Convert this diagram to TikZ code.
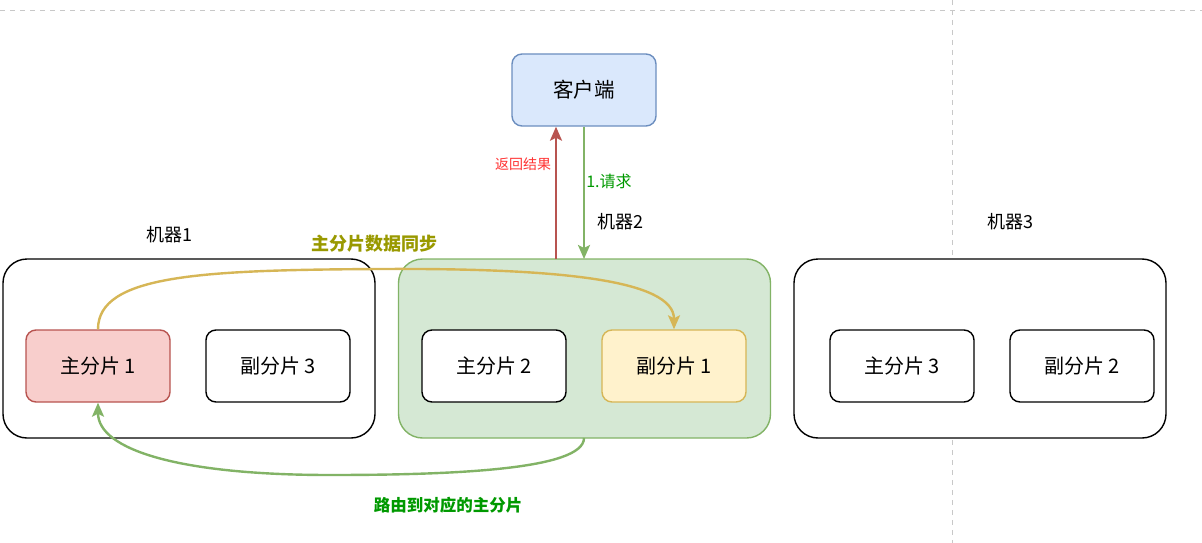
\documentclass[tikz,border=0pt]{standalone}
\usepackage{fontspec}
\setmainfont{Noto Sans CJK SC}
\usetikzlibrary{arrows.meta}
\definecolor{cliFill}{HTML}{DAE8FC}
\definecolor{cliDraw}{HTML}{6C8EBF}
\definecolor{grFill}{HTML}{D5E8D4}
\definecolor{grDraw}{HTML}{82B366}
\definecolor{rdFill}{HTML}{F8CECC}
\definecolor{rdDraw}{HTML}{B85450}
\definecolor{ylFill}{HTML}{FFF2CC}
\definecolor{ylDraw}{HTML}{D6B656}
\definecolor{olive}{HTML}{999900}
\definecolor{dgreen}{HTML}{009900}
\definecolor{lred}{HTML}{FF3333}
\definecolor{gridgray}{HTML}{C8C8C8}
\tikzset{
  machine/.style={draw=black, line width=1.4pt, rounded corners=24pt, minimum width=372pt, minimum height=179pt, fill=white},
  shard/.style={draw=black, line width=1.4pt, rounded corners=10pt, minimum width=144pt, minimum height=72pt, fill=white, font=\fontsize{20}{22}\selectfont},
  lbl/.style={font=\fontsize{18}{20}\selectfont},
  conn/.style={line width=2.4pt, -{Stealth[length=14pt,width=12pt,inset=3pt]}},
}
\begin{document}
\begin{tikzpicture}[x=1pt,y=-1pt]
\useasboundingbox (0,0) rectangle (1202,543);
% guide lines
\draw[gridgray, line width=0.8pt, dash pattern=on 5pt off 5pt] (0,10) -- (1202,10);
\draw[gridgray, line width=0.8pt, dash pattern=on 5pt off 5pt] (952,0) -- (952,543);
% client
\node[draw=cliDraw, fill=cliFill, line width=1.4pt, rounded corners=10pt, minimum width=144pt, minimum height=72pt, font=\fontsize{20.5}{22}\selectfont] (client) at (584,90) {客户端};
% machines
\node[machine] (m1) at (189,348.5) {};
\node[machine, fill=grFill, draw=grDraw] (m2) at (584.5,348.5) {};
\node[machine] (m3) at (980,348.5) {};
\node[lbl] (l1) at (169,235) {机器1};
\node[lbl] (l2) at (620,222) {机器2};
\node[lbl] (l3) at (1010,222) {机器3};
% shards
\node[shard, fill=rdFill, draw=rdDraw] (p1) at (98,366) {主分片 1};
\node[shard] (r3) at (278,366) {副分片 3};
\node[shard] (p2) at (494,366) {主分片 2};
\node[shard, fill=ylFill, draw=ylDraw] (r1) at (674,366) {副分片 1};
\node[shard] (p3) at (902,366) {主分片 3};
\node[shard] (r2) at (1082,366) {副分片 2};
% request / response
\coordinate (respStart) at (556,259);
\coordinate (reqEnd) at (584,259);
\draw[conn, rdDraw] (respStart) -- (respStart |- client.south);
\draw[conn, grDraw] (client.south) -- (reqEnd);
\node[font=\fontsize{14}{16}\selectfont, text=lred] (resp) at (523,164) {返回结果};
\node[font=\fontsize{16}{18}\selectfont, text=dgreen] (req) at (609,181) {1.请求};
% sync curve
\coordinate (syncMid) at (380,269);
\draw[conn, ylDraw] (p1.north) .. controls (98,275) and (200,270) .. (syncMid) .. controls (560,268) and (674,280) .. (r1.north);
\node[font=\bfseries\fontsize{18}{20}\selectfont, text=olive] (syncL) at (374,244) {主分片数据同步};
% route curve
\coordinate (m2b) at (584,438);
\coordinate (routeMid) at (330,475);
\draw[conn, grDraw] (m2b) .. controls (584,470) and (450,475) .. (routeMid) .. controls (180,475) and (98,450) .. (p1.south);
\node[font=\bfseries\fontsize{16.5}{18}\selectfont, text=dgreen] (routeL) at (448,505) {路由到对应的主分片};
\end{tikzpicture}
\end{document}
